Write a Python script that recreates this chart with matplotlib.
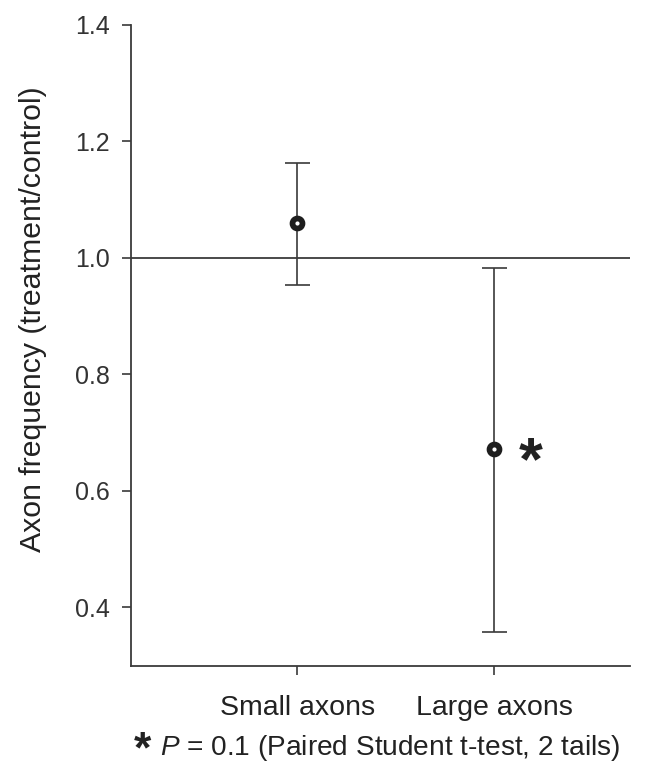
import matplotlib
matplotlib.use("Agg")
import matplotlib.pyplot as plt

plt.rcParams['font.family'] = ['Liberation Sans', 'DejaVu Sans']
plt.rcParams['mathtext.fontset'] = 'custom'
plt.rcParams['mathtext.rm'] = 'Liberation Sans'
plt.rcParams['mathtext.it'] = 'Liberation Sans:italic'
plt.rcParams['mathtext.bf'] = 'Liberation Sans:bold'

categories = ["Small axons", "Large axons"]
means = [1.060, 0.672]
upper = [1.163, 0.983]
lower = [0.954, 0.357]
yticks = [0.4, 0.6, 0.8, 1.0, 1.2, 1.4]
ytick_labels = ["0.4", "0.6", "0.8", "1.0", "1.2", "1.4"]

fig = plt.figure(figsize=(6.45, 7.73), dpi=100)
ax = fig.add_axes([0.203, 0.139, 0.774, 0.829])

xs = [1, 2]
err_lo = [m - l for m, l in zip(means, lower)]
err_hi = [u - m for m, u in zip(means, upper)]

ax.axhline(1.0, color='#3a3a3a', lw=1.3, zorder=1)
ax.errorbar(xs, means, yerr=[err_lo, err_hi], fmt='none', ecolor='#3a3a3a',
            elinewidth=1.2, capsize=9, capthick=1.2, zorder=2)
ax.plot(xs, means, 'o', ms=7.2, mfc='white', mec='#1e1e1e', mew=4.1, zorder=3, ls='none')

ax.annotate("*", xy=(xs[1], means[1]), xytext=(17.6, -22), textcoords='offset points',
            fontsize=44, fontweight='bold', color='#222222', ha='left', va='baseline')

ax.set_xlim(0.157, 2.69)
ax.set_ylim(0.3, 1.4)
ax.set_yticks(yticks)
ax.set_yticklabels(ytick_labels)
ax.set_xticks(xs)
ax.set_xticklabels(categories)

for s in ['top', 'right']:
    ax.spines[s].set_visible(False)
for s in ['left', 'bottom']:
    ax.spines[s].set_color('#3a3a3a')
    ax.spines[s].set_linewidth(1.3)

ax.tick_params(axis='y', direction='out', length=6.5, width=1.2, colors='#3a3a3a',
               labelsize=18, pad=9, labelcolor='#333333')
ax.tick_params(axis='x', direction='out', length=6.5, width=1.2, colors='#3a3a3a',
               labelsize=20.5, pad=15, labelcolor='#222222')

ax.set_ylabel("Axon frequency (treatment/control)", fontsize=21.8, color='#222222', labelpad=12)
ax.yaxis.set_label_coords(-0.168, 0.54)

fig.text(0.208, 0.0135, "*", fontsize=32, fontweight='bold', color='#222222', ha='left', va='baseline')
fig.text(0.248, 0.023, r"$\it{P}$ = 0.1 (Paired Student t-test, 2 tails)", fontsize=20.2,
         color='#222222', ha='left', va='baseline')

fig.savefig("out.png", dpi=100)
